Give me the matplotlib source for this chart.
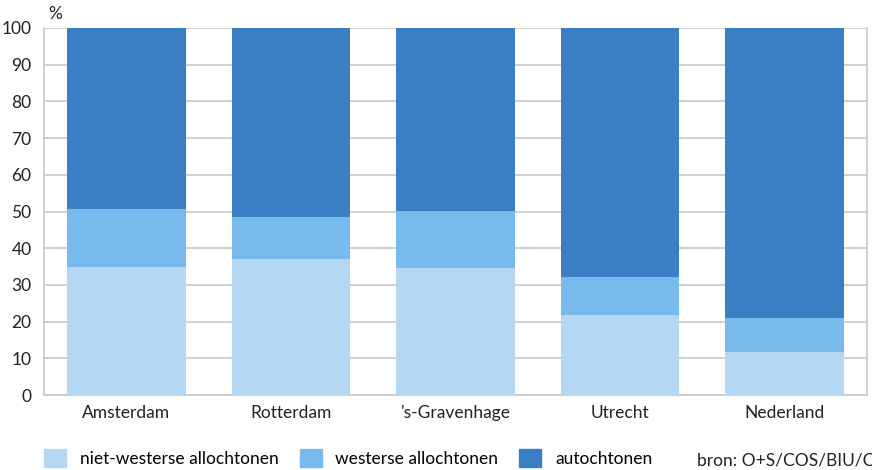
import matplotlib
matplotlib.use('Agg')
import matplotlib.pyplot as plt
from matplotlib.patches import Patch
import numpy as np

plt.rcParams['font.family'] = ['Lato', 'DejaVu Sans']

steden = ["Amsterdam", "Rotterdam", "'s-Gravenhage", "Utrecht", "Nederland"]
niet_westers = [34.9, 37.1, 34.6, 21.8, 11.8]
westers = [15.8, 11.4, 15.5, 10.4, 9.2]
autochtoon = [100 - a - b for a, b in zip(niet_westers, westers)]

kleuren = ["#B4D7F4", "#78BAEC", "#3A7FC3"]
labels = ["niet-westerse allochtonen", "westerse allochtonen", "autochtonen"]

fig = plt.figure(figsize=(8.72, 4.70), dpi=100)
ax = fig.add_axes([44 / 872, 1 - 395 / 470, (867 - 44) / 872, (395 - 28) / 470])

x = np.arange(len(steden))
w = 0.72
ax.bar(x, niet_westers, w, color=kleuren[0], zorder=3)
ax.bar(x, westers, w, bottom=niet_westers, color=kleuren[1], zorder=3)
ax.bar(x, autochtoon, w, bottom=np.array(niet_westers) + np.array(westers),
       color=kleuren[2], zorder=3)

fs = 12.5
ax.set_xlim(-0.5, len(steden) - 0.5)
ax.set_ylim(0, 100)
ax.set_yticks(range(0, 101, 10))
ax.set_xticks(x)
ax.set_xticklabels(steden, fontsize=fs, color="#222222")
ax.tick_params(axis='y', labelsize=fs, colors="#222222", length=0, pad=9)
ax.tick_params(axis='x', length=0, pad=7)
ax.grid(axis='y', color="#C8C8C8", linewidth=1.2, zorder=0)
for s in ["left", "bottom", "right"]:
    ax.spines[s].set_color("#C8C8C8")
    ax.spines[s].set_linewidth(1.2)
ax.spines["top"].set_visible(False)

fig.text(48 / 872, 1 - 14 / 470, "%", fontsize=fs, color="#222222", va="center")

handles = [Patch(color=c) for c in kleuren]
leg = fig.legend(handles, labels, loc="center left", bbox_to_anchor=(44 / 872, 1 - 458 / 470),
                 ncol=3, frameon=False, fontsize=fs, handlelength=1.27, handleheight=1.27,
                 columnspacing=1.2, handletextpad=0.8, borderpad=0, borderaxespad=0)
fig.text(697 / 872, 1 - 460 / 470, "bron: O+S/COS/BIU/CBS", fontsize=fs,
         color="#222222", va="center")

fig.savefig("out.png", dpi=100)
